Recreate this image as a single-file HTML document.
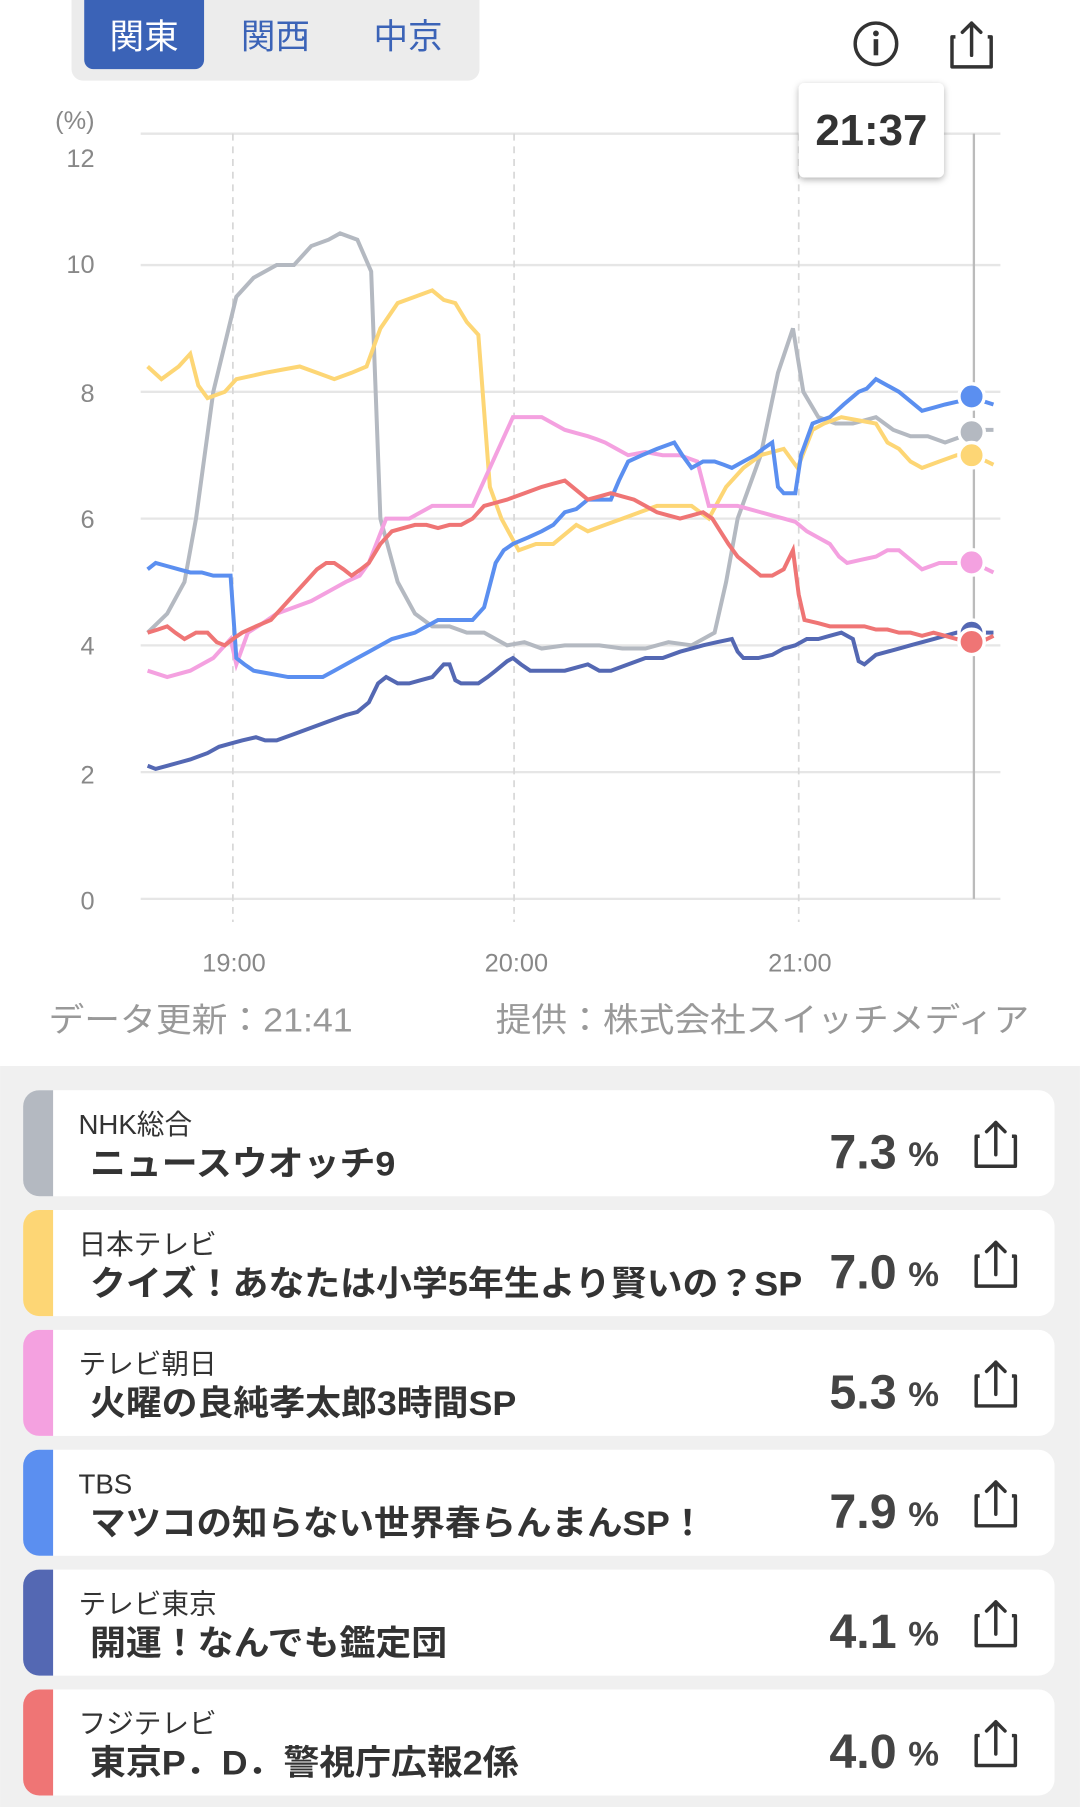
<!DOCTYPE html>
<html><head><meta charset="utf-8"><style>
html,body{margin:0;padding:0;background:#fff;}
svg{display:block;}
text{font-family:"Liberation Sans","Noto Sans CJK JP",sans-serif;}
</style></head><body>
<svg width="1080" height="1807" viewBox="0 0 937 1568" xmlns="http://www.w3.org/2000/svg">
<defs>
<filter id="sh" x="-20%" y="-20%" width="140%" height="150%"><feDropShadow dx="0" dy="2" stdDeviation="3" flood-color="#000" flood-opacity="0.3"/></filter>
<g id="share"><path d="M-14,-6 h-3 v26 h34 v-26 h-3" fill="none" stroke="#333" stroke-width="3" stroke-linejoin="round"/><path d="M0,10 V-18 M-8,-10 L0,-18 L8,-10" fill="none" stroke="#333" stroke-width="3" stroke-linecap="round" stroke-linejoin="round"/></g>
</defs>
<rect width="937" height="925" fill="#fff"/>
<rect x="0" y="925" width="937" height="643" fill="#f0f0f0"/>
<rect x="62" y="-10" width="354" height="80" rx="10" fill="#ececec"/>
<rect x="73" y="-10" width="104" height="70" rx="8" fill="#3b63b7"/>
<text x="125" y="42" font-size="30" fill="#fff" text-anchor="middle">関東</text>
<text x="239" y="42" font-size="30" fill="#3b63b7" text-anchor="middle">関西</text>
<text x="354" y="42" font-size="30" fill="#3b63b7" text-anchor="middle">中京</text>
<circle cx="760" cy="38" r="18" fill="none" stroke="#333" stroke-width="3"/>
<circle cx="760" cy="29" r="2.5" fill="#333"/><rect x="758" y="34" width="4" height="14" fill="#333"/>
<use href="#share" x="843" y="38"/>
<g stroke="#e6e6e6" stroke-width="2">
<line x1="122" y1="116" x2="868" y2="116"/><line x1="122" y1="230" x2="868" y2="230"/><line x1="122" y1="340" x2="868" y2="340"/><line x1="122" y1="450" x2="868" y2="450"/><line x1="122" y1="560" x2="868" y2="560"/><line x1="122" y1="670" x2="868" y2="670"/><line x1="122" y1="780" x2="868" y2="780"/>
</g>
<g stroke="#d8d8d8" stroke-width="1.5" stroke-dasharray="6,5">
<line x1="202" y1="116" x2="202" y2="800"/><line x1="446" y1="116" x2="446" y2="800"/><line x1="693" y1="116" x2="693" y2="800"/>
</g>
<g font-size="22" fill="#888" text-anchor="end">
<text x="82" y="112">(%)</text>
<text x="82" y="145">12</text><text x="82" y="237">10</text><text x="82" y="349">8</text><text x="82" y="458">6</text><text x="82" y="568">4</text><text x="82" y="680">2</text><text x="82" y="789">0</text>
</g>
<g font-size="22" fill="#888" text-anchor="middle">
<text x="203" y="843">19:00</text><text x="448" y="843">20:00</text><text x="694" y="843">21:00</text>
</g>
<line x1="845" y1="116" x2="845" y2="780" stroke="#bbb" stroke-width="2"/>
<g transform="translate(0,780) scale(1,-55)" fill="none">
<polyline vector-effect="non-scaling-stroke" stroke="#b4b9c1" stroke-width="4" points="128,4.2 145,4.5 160,5 170,6 185,8 205,9.5 220,9.8 240,10 255,10 270,10.3 285,10.4 295,10.5 310,10.4 322,9.9 330,6 345,5 360,4.5 375,4.3 390,4.3 405,4.2 420,4.2 440,4.0 455,4.05 470,3.95 490,4.0 520,4.0 540,3.95 560,3.95 580,4.05 600,4.0 620,4.2 630,5 640,6 660,7 675,8.3 688,9.0 697,8.0 710,7.6 725,7.5 740,7.5 760,7.6 775,7.4 790,7.3 805,7.3 820,7.2 835,7.3 850,7.4 862,7.4"/>
<polyline vector-effect="non-scaling-stroke" stroke="#fdd675" stroke-width="4" points="128,8.4 140,8.2 155,8.4 165,8.6 172,8.1 180,7.9 195,8.0 205,8.2 218,8.25 230,8.3 245,8.35 260,8.4 275,8.3 290,8.2 305,8.3 318,8.4 330,9.0 345,9.4 360,9.5 375,9.6 385,9.45 395,9.4 405,9.1 415,8.9 425,6.5 435,6.0 450,5.5 465,5.6 480,5.6 490,5.75 500,5.9 510,5.8 525,5.9 540,6.0 555,6.1 570,6.2 585,6.2 600,6.2 615,6.0 630,6.5 645,6.8 660,7.0 680,7.1 692,6.8 705,7.4 715,7.5 730,7.6 745,7.55 760,7.5 770,7.2 780,7.1 790,6.9 800,6.8 815,6.9 830,7.0 845,7.0 862,6.85"/>
<polyline vector-effect="non-scaling-stroke" stroke="#f4a1e0" stroke-width="4" points="128,3.6 145,3.5 165,3.6 185,3.8 200,4.1 205,3.7 215,4.2 228,4.35 240,4.5 255,4.6 270,4.7 285,4.85 300,5.0 312,5.1 320,5.3 335,6.0 345,6.0 355,6.0 365,6.1 375,6.2 395,6.2 410,6.2 420,6.6 430,7.0 445,7.6 458,7.6 470,7.6 480,7.5 490,7.4 500,7.35 510,7.3 518,7.25 525,7.2 535,7.1 545,7.0 560,7.05 575,7.0 590,7.0 605,6.9 615,6.2 628,6.2 640,6.2 650,6.15 660,6.1 670,6.05 680,6.0 690,5.95 700,5.8 710,5.7 720,5.6 728,5.4 735,5.3 747,5.35 760,5.4 770,5.5 780,5.5 790,5.35 800,5.2 815,5.3 830,5.3 845,5.3 862,5.15"/>
<polyline vector-effect="non-scaling-stroke" stroke="#5b8ff0" stroke-width="4" points="128,5.2 135,5.3 145,5.25 155,5.2 165,5.15 175,5.15 185,5.1 200,5.1 205,3.8 212,3.7 220,3.6 235,3.55 250,3.5 265,3.5 280,3.5 290,3.6 300,3.7 310,3.8 320,3.9 330,4.0 340,4.1 350,4.15 360,4.2 370,4.3 380,4.4 395,4.4 410,4.4 420,4.6 430,5.3 437,5.5 445,5.6 458,5.7 470,5.8 480,5.9 490,6.1 500,6.15 510,6.3 520,6.3 530,6.3 537,6.6 545,6.9 557,7.0 570,7.1 585,7.2 592,7.0 600,6.8 610,6.9 620,6.9 628,6.85 635,6.8 645,6.9 655,7.0 662,7.1 670,7.2 675,6.5 680,6.4 690,6.4 695,7.0 705,7.5 712,7.55 720,7.6 732,7.8 745,8.0 752,8.05 760,8.2 770,8.1 780,8.0 790,7.85 800,7.7 810,7.75 820,7.8 832,7.85 845,7.9 862,7.8"/>
<polyline vector-effect="non-scaling-stroke" stroke="#5468b3" stroke-width="4" points="128,2.1 135,2.05 145,2.1 155,2.15 165,2.2 180,2.3 190,2.4 200,2.45 210,2.5 222,2.55 230,2.5 240,2.5 255,2.6 270,2.7 285,2.8 300,2.9 310,2.95 320,3.1 328,3.4 335,3.5 345,3.4 355,3.4 365,3.45 375,3.5 385,3.7 390,3.7 395,3.45 400,3.4 410,3.4 415,3.4 423,3.5 430,3.6 440,3.75 445,3.8 452,3.7 460,3.6 475,3.6 490,3.6 500,3.65 510,3.7 520,3.6 530,3.6 545,3.7 560,3.8 575,3.8 590,3.9 600,3.95 610,4.0 622,4.05 635,4.1 640,3.9 645,3.8 658,3.8 670,3.85 680,3.95 690,4.0 700,4.1 710,4.1 720,4.15 730,4.2 740,4.1 745,3.75 750,3.7 760,3.85 770,3.9 780,3.95 790,4.0 800,4.05 810,4.1 820,4.15 830,4.2 845,4.2 862,4.2"/>
<polyline vector-effect="non-scaling-stroke" stroke="#ef7575" stroke-width="4" points="128,4.2 137,4.25 145,4.3 152,4.2 160,4.1 170,4.2 180,4.2 188,4.05 195,4.0 202,4.1 210,4.2 222,4.3 235,4.4 245,4.6 255,4.8 265,5.0 275,5.2 283,5.3 290,5.3 298,5.2 305,5.1 313,5.2 320,5.3 330,5.6 340,5.8 350,5.85 360,5.9 370,5.9 380,5.85 390,5.9 400,5.9 410,6.0 420,6.2 430,6.25 440,6.3 455,6.4 470,6.5 480,6.55 490,6.6 500,6.45 510,6.3 520,6.35 530,6.4 540,6.35 550,6.3 560,6.2 570,6.1 580,6.05 590,6.0 600,6.05 610,6.1 618,6.0 625,5.8 632,5.6 640,5.4 650,5.25 660,5.1 670,5.1 680,5.2 688,5.5 693,4.8 698,4.4 710,4.35 720,4.3 735,4.3 750,4.3 760,4.25 770,4.25 780,4.2 790,4.2 800,4.15 810,4.2 820,4.15 830,4.1 845,4.0 862,4.15"/>
</g>
<g stroke="#fff" stroke-width="3">
<circle cx="843" cy="375" r="11" fill="#b4b9c1"/>
<circle cx="843" cy="344" r="11" fill="#5b8ff0"/>
<circle cx="843" cy="395" r="11" fill="#fdd675"/>
<circle cx="843" cy="488" r="11" fill="#f4a1e0"/>
<circle cx="843" cy="549" r="11" fill="#5468b3"/>
<circle cx="843" cy="557" r="11" fill="#ef7575"/>
</g>
<rect x="693" y="72" width="126" height="82" rx="5" fill="#fff" filter="url(#sh)"/>
<text x="756" y="126" font-size="38" font-weight="bold" fill="#333" text-anchor="middle">21:37</text>
<text x="42" y="895" font-size="29" fill="#999" textLength="264" lengthAdjust="spacingAndGlyphs">データ更新：21:41</text>
<text x="430" y="895" font-size="29" fill="#999" textLength="463" lengthAdjust="spacingAndGlyphs">提供：株式会社スイッチメディア</text>
<g>
<g transform="translate(0,946)"><rect x="20" y="0" width="895" height="92" rx="14" fill="#fff"/><path d="M34,0 h12 v92 h-12 a14,14 0 0 1 -14,-14 v-64 a14,14 0 0 1 14,-14z" fill="#b4b9c1"/><text x="68" y="38" font-size="24" fill="#333">NHK総合</text><text x="78" y="74" font-size="30" font-weight="bold" fill="#333" textLength="265" lengthAdjust="spacingAndGlyphs">ニュースウオッチ9</text><text x="778" y="68" font-size="42" font-weight="bold" fill="#444" text-anchor="end">7.3</text><text x="788" y="66" font-size="30" font-weight="bold" fill="#444">%</text><use href="#share" x="864" y="46"/></g>
<g transform="translate(0,1050)"><rect x="20" y="0" width="895" height="92" rx="14" fill="#fff"/><path d="M34,0 h12 v92 h-12 a14,14 0 0 1 -14,-14 v-64 a14,14 0 0 1 14,-14z" fill="#fdd675"/><text x="68" y="38" font-size="24" fill="#333">日本テレビ</text><text x="78" y="74" font-size="30" font-weight="bold" fill="#333" textLength="618" lengthAdjust="spacingAndGlyphs">クイズ！あなたは小学5年生より賢いの？SP</text><text x="778" y="68" font-size="42" font-weight="bold" fill="#444" text-anchor="end">7.0</text><text x="788" y="66" font-size="30" font-weight="bold" fill="#444">%</text><use href="#share" x="864" y="46"/></g>
<g transform="translate(0,1154)"><rect x="20" y="0" width="895" height="92" rx="14" fill="#fff"/><path d="M34,0 h12 v92 h-12 a14,14 0 0 1 -14,-14 v-64 a14,14 0 0 1 14,-14z" fill="#f4a1e0"/><text x="68" y="38" font-size="24" fill="#333">テレビ朝日</text><text x="78" y="74" font-size="30" font-weight="bold" fill="#333" textLength="370" lengthAdjust="spacingAndGlyphs">火曜の良純孝太郎3時間SP</text><text x="778" y="68" font-size="42" font-weight="bold" fill="#444" text-anchor="end">5.3</text><text x="788" y="66" font-size="30" font-weight="bold" fill="#444">%</text><use href="#share" x="864" y="46"/></g>
<g transform="translate(0,1258)"><rect x="20" y="0" width="895" height="92" rx="14" fill="#fff"/><path d="M34,0 h12 v92 h-12 a14,14 0 0 1 -14,-14 v-64 a14,14 0 0 1 14,-14z" fill="#5b8ff0"/><text x="68" y="38" font-size="24" fill="#333">TBS</text><text x="78" y="74" font-size="30" font-weight="bold" fill="#333" textLength="534" lengthAdjust="spacingAndGlyphs">マツコの知らない世界春らんまんSP！</text><text x="778" y="68" font-size="42" font-weight="bold" fill="#444" text-anchor="end">7.9</text><text x="788" y="66" font-size="30" font-weight="bold" fill="#444">%</text><use href="#share" x="864" y="46"/></g>
<g transform="translate(0,1362)"><rect x="20" y="0" width="895" height="92" rx="14" fill="#fff"/><path d="M34,0 h12 v92 h-12 a14,14 0 0 1 -14,-14 v-64 a14,14 0 0 1 14,-14z" fill="#5468b3"/><text x="68" y="38" font-size="24" fill="#333">テレビ東京</text><text x="78" y="74" font-size="30" font-weight="bold" fill="#333" textLength="310" lengthAdjust="spacingAndGlyphs">開運！なんでも鑑定団</text><text x="778" y="68" font-size="42" font-weight="bold" fill="#444" text-anchor="end">4.1</text><text x="788" y="66" font-size="30" font-weight="bold" fill="#444">%</text><use href="#share" x="864" y="46"/></g>
<g transform="translate(0,1466)"><rect x="20" y="0" width="895" height="92" rx="14" fill="#fff"/><path d="M34,0 h12 v92 h-12 a14,14 0 0 1 -14,-14 v-64 a14,14 0 0 1 14,-14z" fill="#ef7575"/><text x="68" y="38" font-size="24" fill="#333">フジテレビ</text><text x="78" y="74" font-size="30" font-weight="bold" fill="#333" textLength="372" lengthAdjust="spacingAndGlyphs">東京P．D．警視庁広報2係</text><text x="778" y="68" font-size="42" font-weight="bold" fill="#444" text-anchor="end">4.0</text><text x="788" y="66" font-size="30" font-weight="bold" fill="#444">%</text><use href="#share" x="864" y="46"/></g>
</g>
</svg>
</body></html>
